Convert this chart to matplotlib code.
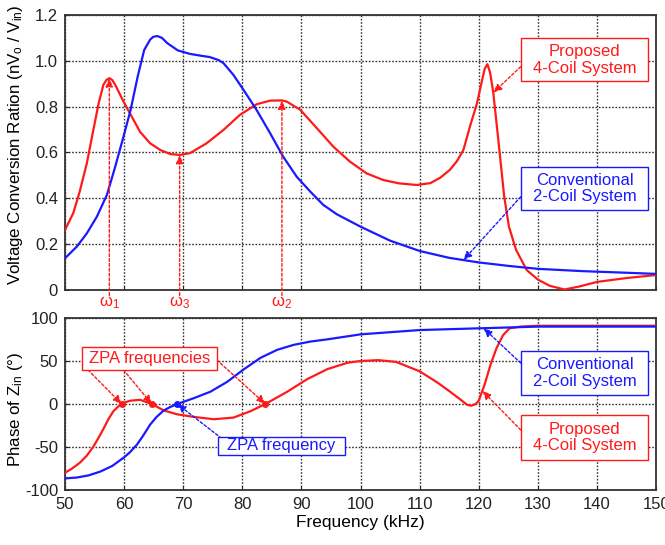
import numpy as np
import matplotlib.pyplot as plt
from matplotlib.patches import Rectangle

plt.rcParams['font.family'] = ['Liberation Sans', 'DejaVu Sans']
plt.rcParams['mathtext.fontset'] = 'custom'
plt.rcParams['mathtext.rm'] = 'Liberation Sans'
plt.rcParams['mathtext.it'] = 'Liberation Sans:italic'
plt.rcParams['axes.unicode_minus'] = False

RED = '#ff1a1a'
BLUE = '#1a1aff'

# voltage conversion ratio, proposed 4-coil system
vr_red_f = [50, 51.4, 52.5, 53.7, 54.8, 55.7, 56.5, 57, 57.5, 58, 58.5, 59.9, 61.3, 62.7, 64.4,
            66.1, 67.8, 69.4, 71.15, 73.96, 76.8, 79.6, 82.4, 84.7, 86.7, 87.5, 89.8, 92.6,
            95.4, 98.2, 101, 103.8, 106.5, 109.5, 111.8, 113.5, 115.1, 116.3, 117.4, 118.5,
            119.7, 120.5, 121, 121.45, 121.9, 122.45, 123.3, 124.3, 125.1, 126.3, 128.1, 130,
            132, 134.5, 137, 140, 145, 150]
vr_red_v = [0.262, 0.335, 0.43, 0.553, 0.698, 0.815, 0.895, 0.916, 0.924, 0.916, 0.895, 0.822,
            0.756, 0.69, 0.64, 0.611, 0.593, 0.589, 0.597, 0.64, 0.698, 0.764, 0.81, 0.826,
            0.827, 0.822, 0.786, 0.706, 0.625, 0.56, 0.509, 0.48, 0.465, 0.458, 0.466, 0.49,
            0.524, 0.562, 0.611, 0.713, 0.815, 0.909, 0.965, 0.985, 0.95, 0.861, 0.655, 0.407,
            0.276, 0.175, 0.087, 0.045, 0.018, 0.002, 0.015, 0.035, 0.052, 0.065]

# voltage conversion ratio, conventional 2-coil system
vr_blue_f = [50, 52, 53.7, 55.4, 57.1, 58.5, 59.9, 61.1, 62.3, 63.4, 64.4, 64.9, 65.6, 66.4,
             67.3, 69.1, 71.15, 73, 74.5, 76, 76.8, 78.5, 80.2, 82.4, 84.7, 86.9, 89.2, 91.5,
             93.7, 96, 100, 105, 110, 115, 120, 125, 130, 137.6, 145, 150]
vr_blue_v = [0.138, 0.189, 0.247, 0.32, 0.415, 0.538, 0.669, 0.785, 0.931, 1.047, 1.092,
             1.104, 1.108, 1.1, 1.077, 1.045, 1.03, 1.022, 1.016, 1.003, 0.99, 0.938, 0.873,
             0.786, 0.684, 0.582, 0.494, 0.429, 0.371, 0.33, 0.276, 0.215, 0.17, 0.14, 0.12,
             0.105, 0.092, 0.082, 0.075, 0.07]

# phase of Zin
ph_red_f = [50, 51.2, 52.5, 53.7, 54.8, 55.7, 56.5, 57.4, 58.2, 59, 59.6, 60.3, 61, 62.7, 64.7,
            66.7, 69, 71.8, 75.2, 78.5, 81.4, 83.9, 87.6, 91, 94.4, 97.8, 100, 103, 106, 110,
            113, 115, 116.8, 118, 118.7, 119.5, 120, 121, 122, 123, 124.1, 125.2, 127, 130, 150]
ph_red_v = [-80, -75, -68.4, -60, -49.6, -39, -29, -17, -8.3, -3, 0, 2.2, 3.8, 4.9, 0, -7.5,
            -12, -15, -17.7, -15.8, -8.3, 0, 14.3, 29, 40.6, 48, 50, 51, 49, 38, 25, 15, 5.7,
            -0.8, -2, 0, 4, 23, 46, 65, 80, 88, 90, 91, 91]
ph_blue_f = [50, 52, 54, 56, 58, 60, 61, 62.2, 63.3, 64.4, 65.5, 66.7, 67.8, 69, 71.8, 74.6,
             77.4, 80.3, 83.1, 85.9, 88.7, 91.5, 94.4, 100, 110, 120, 130, 150]
ph_blue_v = [-86.5, -85.5, -83, -78.5, -72, -62, -56, -47, -36, -24, -15, -7.5, -3.5, 0, 6.8,
             14.3, 25.6, 40.6, 53.8, 63, 68.8, 72.6, 75.2, 81, 86, 88, 90, 90]

omega_f = [57.5, 69.4, 86.7]
omega_lbl = [r'ω$_1$', r'ω$_3$', r'ω$_2$']
zpa_red = [59.6, 64.7, 83.9]
zpa_blue = 69.0

xticks = np.arange(50, 151, 10)

fig = plt.figure(figsize=(6.65, 5.45), dpi=100)
ax1 = fig.add_axes([0.0977, 0.468, 0.889, 0.5046])
ax2 = fig.add_axes([0.0977, 0.1009, 0.889, 0.3156])

for ax in (ax1, ax2):
    ax.set_xlim(50, 150)
    ax.set_xticks(xticks)
    ax.grid(True, ls=(0, (1.2, 1.2)), color='#333333', lw=1.0)
    ax.tick_params(direction='in', length=3, labelsize=12, colors='#222222', pad=5)
    for s in ax.spines.values():
        s.set_linewidth(1.3)
        s.set_color('#333333')

ax1.plot(vr_red_f, vr_red_v, color=RED, lw=1.6, zorder=3)
ax1.plot(vr_blue_f, vr_blue_v, color=BLUE, lw=1.6, zorder=3)
ax1.set_ylim(0, 1.2)
ax1.set_yticks([0, 0.2, 0.4, 0.6, 0.8, 1.0, 1.2])
ax1.set_yticklabels(['0', '0.2', '0.4', '0.6', '0.8', '1.0', '1.2'])
ax1.set_xticklabels([])
ax1.set_ylabel(r'Voltage Conversion Ration (nV$_\mathrm{o}$ / V$_\mathrm{in}$)', fontsize=12.2)
ax1.yaxis.set_label_coords(-0.068, 0.53)

ax2.plot(ph_red_f, ph_red_v, color=RED, lw=1.6, zorder=3)
ax2.plot(ph_blue_f, ph_blue_v, color=BLUE, lw=1.6, zorder=3)
ax2.set_ylim(-100, 100)
ax2.set_yticks([-100, -50, 0, 50, 100])
ax2.set_ylabel(r'Phase of Z$_\mathrm{in}$ (°)', fontsize=12.2)
ax2.yaxis.set_label_coords(-0.068, 0.47)
ax2.set_xlabel('Frequency (kHz)', fontsize=12.5, labelpad=2)


def dotted_arrow(ax, xy, xytext, color, tcoords='axes fraction'):
    ax.annotate('', xy=xy, xycoords='data', xytext=xytext, textcoords=tcoords,
                arrowprops=dict(arrowstyle='-|>,head_length=0.5,head_width=0.22',
                                ls=(0, (2, 1.5)), color=color, lw=1,
                                shrinkA=0, shrinkB=0), zorder=5, annotation_clip=False)


def label_box(ax, x0, y0, x1, y1, text, color):
    ax.add_patch(Rectangle((x0, y0), x1 - x0, y1 - y0, transform=ax.transAxes,
                           fc='white', ec=color, lw=1, zorder=6))
    ax.text((x0 + x1) / 2, (y0 + y1) / 2, text, transform=ax.transAxes, color=color,
            fontsize=12, ha='center', va='center', multialignment='center',
            linespacing=1.15, zorder=7)


# omega markers on the top panel
for f, lbl in zip(omega_f, omega_lbl):
    yv = np.interp(f, vr_red_f, vr_red_v)
    dotted_arrow(ax1, (f, yv), (f, -0.02), RED, tcoords=('data', 'axes fraction'))
    ax1.text(f, -0.048, lbl, color=RED, fontsize=12, ha='center', va='center',
             transform=ax1.get_xaxis_transform())

label_box(ax1, 0.771, 0.758, 0.987, 0.917, 'Proposed\n4-Coil System', RED)
dotted_arrow(ax1, (122.45, np.interp(122.45, vr_red_f, vr_red_v)), (0.771, 0.812), RED)
label_box(ax1, 0.771, 0.289, 0.987, 0.448, 'Conventional\n2-Coil System', BLUE)
dotted_arrow(ax1, (117.4, np.interp(117.4, vr_blue_f, vr_blue_v)), (0.771, 0.339), BLUE)

# bottom panel labels
label_box(ax2, 0.028, 0.698, 0.257, 0.833, 'ZPA frequencies', RED)
for f, start in zip(zpa_red, [(0.039, 0.698), (0.099, 0.698), (0.257, 0.756)]):
    dotted_arrow(ax2, (f, 0), start, RED)
ax2.plot(zpa_red, [0] * len(zpa_red), 'o', color=RED, ms=4, zorder=5)
label_box(ax2, 0.259, 0.203, 0.474, 0.31, 'ZPA frequency', BLUE)
dotted_arrow(ax2, (zpa_blue, 0), (0.265, 0.30), BLUE)
ax2.plot([zpa_blue], [0], 'o', color=BLUE, ms=4, zorder=5)

label_box(ax2, 0.771, 0.552, 0.987, 0.808, 'Conventional\n2-Coil System', BLUE)
dotted_arrow(ax2, (120.8, np.interp(120.8, ph_blue_f, ph_blue_v)), (0.771, 0.738), BLUE)
label_box(ax2, 0.771, 0.174, 0.987, 0.436, 'Proposed\n4-Coil System', RED)
dotted_arrow(ax2, (120.6, np.interp(120.6, ph_red_f, ph_red_v)), (0.771, 0.349), RED)

fig.savefig('out.png', dpi=100)
